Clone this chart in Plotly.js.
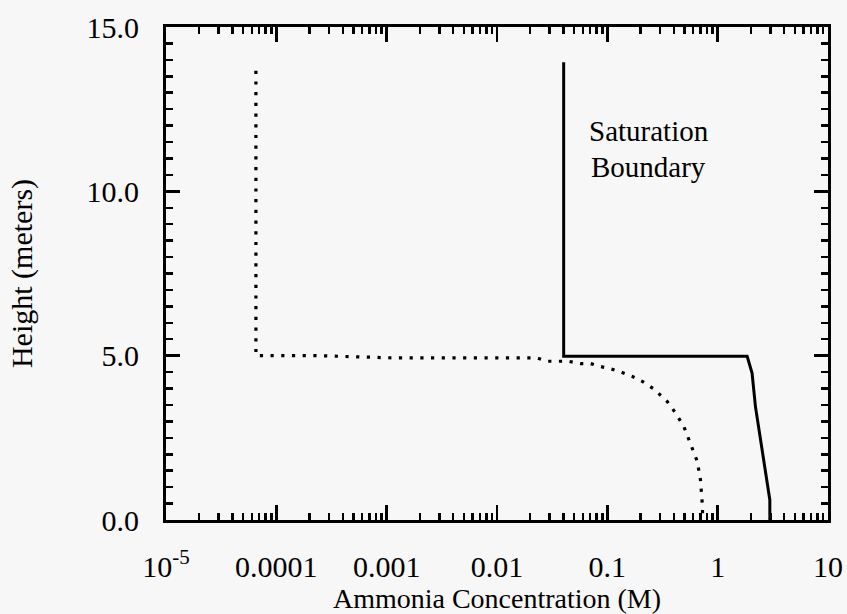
<!DOCTYPE html>
<html>
<head>
<meta charset="utf-8">
<script src="https://cdn.plot.ly/plotly-3.0.1.min.js"></script>
<style>html,body{margin:0;padding:0;background:#f7f7f7;}</style>
</head>
<body>
<div id="chart" style="width:847px;height:614px;"></div>
<script>
// Dotted curve (concentration profile)
var dottedX = [6.53e-5, 6.53e-5, 0.00024, 0.0012, 0.0232, 0.0286, 0.0361, 0.0444, 0.0570, 0.0703, 0.0865, 0.107, 0.133, 0.168, 0.207, 0.264, 0.348, 0.414, 0.493, 0.567, 0.652, 0.698, 0.724, 0.728, 0.73];
var dottedY = [13.67, 5.0, 5.0, 4.93, 4.93, 4.83, 4.83, 4.83, 4.76, 4.76, 4.67, 4.60, 4.50, 4.37, 4.22, 3.99, 3.61, 3.26, 2.85, 2.35, 1.79, 1.23, 0.72, 0.42, 0.0];
// Solid curve (saturation boundary)
var solidX = [0.0402, 0.0402, 1.85, 2.05, 2.20, 2.44, 2.71, 2.97, 2.97];
var solidY = [13.93, 4.98, 4.98, 4.47, 3.45, 2.43, 1.42, 0.61, 0.0];
// Axis tick labels
var xTickVals = [1e-5, 1e-4, 1e-3, 1e-2, 0.1, 1, 10];
var xTickText = ['10<sup>-5</sup>', '0.0001', '0.001', '0.01', '0.1', '1', '10'];
var yTickVals = [0, 5, 10, 15];
var yTickText = ['0.0', '5.0', '10.0', '15.0'];

var xMinor = [];
for (var d = -5; d <= 0; d++) { for (var k = 2; k <= 9; k++) { xMinor.push(k * Math.pow(10, d)); } }

var fontFam = '"Liberation Serif", "Times New Roman", serif';
var traces = [
  {x: dottedX, y: dottedY, mode: 'lines', type: 'scatter', line: {color: '#000', width: 3.2, dash: '3.2px,7.5px'}, showlegend: false},
  {x: solidX, y: solidY, mode: 'lines', type: 'scatter', line: {color: '#000', width: 3}, showlegend: false}
];
var layout = {
  width: 847, height: 614,
  paper_bgcolor: '#f7f7f7', plot_bgcolor: '#f7f7f7',
  margin: {l: 166, r: 19, t: 27, b: 94},
  font: {family: fontFam, size: 30, color: '#000'},
  showlegend: false,
  xaxis: {
    type: 'log', range: [-5, 1], tickmode: 'array', tickvals: xTickVals, ticktext: xTickText,
    ticks: 'inside', ticklen: 15, tickwidth: 2.5, tickcolor: '#000',
    showline: true, linewidth: 3, linecolor: '#000', mirror: 'allticks',
    showgrid: false, zeroline: false, ticklabelstandoff: 18,
    tickfont: {family: fontFam, size: 30, color: '#000'},
    minor: {tickmode: 'array', tickvals: xMinor, ticks: 'inside', ticklen: 7, tickwidth: 2.5, tickcolor: '#000', showgrid: false},
    title: {text: 'Ammonia Concentration (M)', font: {family: fontFam, size: 28}, standoff: 2}
  },
  yaxis: {
    range: [0, 15], tickmode: 'array', tickvals: yTickVals, ticktext: yTickText,
    ticks: 'inside', ticklen: 14, tickwidth: 2.5, tickcolor: '#000',
    showline: true, linewidth: 3, linecolor: '#000', mirror: 'allticks',
    showgrid: false, zeroline: false, ticklabelstandoff: 18,
    tickfont: {family: fontFam, size: 30, color: '#000'},
    minor: {dtick: 0.5, ticks: 'inside', ticklen: 7, tickwidth: 2.5, tickcolor: '#000', showgrid: false},
    title: {text: 'Height (meters)', font: {family: fontFam, size: 30}, standoff: 46}
  },
  annotations: [
    {x: -0.623, y: 11.83, xref: 'x', yref: 'y', text: 'Saturation', showarrow: false, font: {family: fontFam, size: 29, color: '#000'}},
    {x: -0.63, y: 10.74, xref: 'x', yref: 'y', text: 'Boundary', showarrow: false, font: {family: fontFam, size: 29, color: '#000'}}
  ]
};
Plotly.newPlot('chart', traces, layout, {displayModeBar: false, staticPlot: true});
</script>
</body>
</html>
